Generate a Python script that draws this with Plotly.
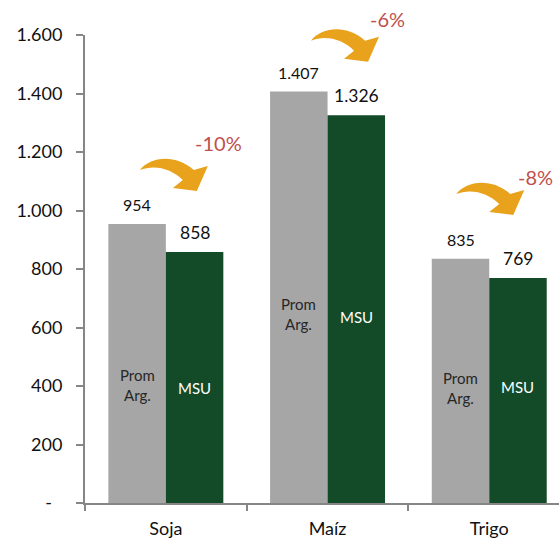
import plotly.graph_objects as go

# ---------------- data ----------------
categories = ["Soja", "Maíz", "Trigo"]
series_names = ["Prom Arg.", "MSU"]
inner_labels = ["Prom<br>Arg.", "MSU"]
prom_arg = [954, 1407, 835]
msu = [858, 1326, 769]
y_tick_vals = [0, 200, 400, 600, 800, 1000, 1200, 1400, 1600]
y_tick_text = ["-\u2007", "200", "400", "600", "800", "1.000", "1.200", "1.400", "1.600"]


def fmt(v):
    return f"{v:,}".replace(",", ".")


pct = [round((m - p) / p * 100) for p, m in zip(prom_arg, msu)]

# ---------------- layout constants ----------------
W, H = 559, 538
ML, MR, MT, MB = 85, 0, 35, 35
CAT_PX = 161.7
BARGAP = 0.289
x_range = [-0.5, -0.5 + (W - ML - MR) / CAT_PX]
y_range = [0, 1600]
half_bar = CAT_PX * (1 - BARGAP) / 4

GRAY = "#A6A6A6"
GREEN = "#134B29"
ORANGE = "#E9A21B"
RED = "#C0504D"
TXT = "#111111"
AXIS = "#868686"
FONT = "Lato"

# pixel offsets (x right, y up) relative to (category centre, top of gray bar)
pct_offsets = [(53, 81), (59.5, 72.5), (46, 81.8)]
arrow_tip_offsets = [(31, 33), (40.5, 29.8), (24, 43.8)]
inner_shift_gray = [-22, -17, -7]
inner_shift_green = [-10, -8, 4]

fig = go.Figure()
fig.add_bar(x=categories, y=prom_arg, name=series_names[0],
            marker=dict(color=GRAY, line=dict(width=0)), hoverinfo="x+y")
fig.add_bar(x=categories, y=msu, name=series_names[1],
            marker=dict(color=GREEN, line=dict(width=0)), hoverinfo="x+y")

annotations = []
for i, cat in enumerate(categories):
    # value labels
    annotations.append(dict(x=cat, y=prom_arg[i], xref="x", yref="y", text=fmt(prom_arg[i]),
                            showarrow=False, xshift=-half_bar, yshift=19, yanchor="middle",
                            font=dict(family=FONT, size=16, color=TXT)))
    annotations.append(dict(x=cat, y=msu[i], xref="x", yref="y", text=fmt(msu[i]),
                            showarrow=False, xshift=half_bar, yshift=20, yanchor="middle",
                            font=dict(family=FONT, size=17.5, color=TXT)))
    # inner labels
    annotations.append(dict(x=cat, y=prom_arg[i] / 2, xref="x", yref="y", text=inner_labels[0],
                            showarrow=False, xshift=-half_bar, yshift=inner_shift_gray[i],
                            yanchor="middle", font=dict(family=FONT, size=15, color="#262626")))
    annotations.append(dict(x=cat, y=msu[i] / 2, xref="x", yref="y", text=inner_labels[1],
                            showarrow=False, xshift=half_bar, yshift=inner_shift_green[i],
                            yanchor="middle", font=dict(family=FONT, size=15, color="white")))
    # percentage labels
    dx, dy = pct_offsets[i]
    annotations.append(dict(x=cat, y=prom_arg[i], xref="x", yref="y", text=f"{pct[i]}%",
                            showarrow=False, xshift=dx, yshift=dy, yanchor="middle",
                            font=dict(family=FONT, size=20, color=RED)))

# curved arrow outline (pixels, relative to the tip, y up)
arrow_pts = {
    "tail": (-57, 21), "c1": (-47, 34), "c2": (-22, 38), "jt": (-3, 21),
    "outer": (11, 25), "tip": (0, 0), "inner": (-24, 3), "jb": (-14, 11),
    "c3": (-25, 22), "c4": (-42, 27),
}


def arrow_path(ox, oy):
    p = {k: (x + ox, y + oy) for k, (x, y) in arrow_pts.items()}
    s = lambda k: f"{p[k][0]:.1f},{p[k][1]:.1f}"
    return (f"M {s('tail')} C {s('c1')} {s('c2')} {s('jt')} L {s('outer')} L {s('tip')} "
            f"L {s('inner')} L {s('jb')} C {s('c3')} {s('c4')} {s('tail')} Z")


shapes = []
for i in range(len(categories)):
    ax = (i - x_range[0]) / (x_range[1] - x_range[0])
    ay = (prom_arg[i] - y_range[0]) / (y_range[1] - y_range[0])
    ox, oy = arrow_tip_offsets[i]
    shapes.append(dict(type="path", xref="paper", yref="paper", xsizemode="pixel",
                       ysizemode="pixel", xanchor=ax, yanchor=ay, path=arrow_path(ox, oy),
                       fillcolor=ORANGE, line=dict(width=0), layer="above"))

fig.update_layout(
    width=W, height=H,
    margin=dict(l=ML, r=MR, t=MT, b=MB, pad=0, autoexpand=False),
    paper_bgcolor="white", plot_bgcolor="white",
    barmode="group", bargap=BARGAP, bargroupgap=0,
    showlegend=False,
    font=dict(family=FONT, color=TXT),
    annotations=annotations,
    shapes=shapes,
    xaxis=dict(range=x_range, showgrid=False, zeroline=False, showline=True,
               linecolor=AXIS, linewidth=2, ticks="outside", tickson="boundaries",
               ticklen=6, tickcolor=AXIS, tickwidth=1.5, ticklabelstandoff=8,
               automargin=False,
               tickfont=dict(family=FONT, size=18, color=TXT), fixedrange=True),
    yaxis=dict(range=y_range, showgrid=False, zeroline=False, showline=True,
               linecolor=AXIS, linewidth=2, ticks="outside", ticklen=7,
               tickcolor=AXIS, tickwidth=1.5, tickvals=y_tick_vals, ticktext=y_tick_text,
               ticklabelstandoff=10, automargin=False,
               tickfont=dict(family=FONT, size=18, color=TXT),
               fixedrange=True),
)

# remove the page's default body margin so the figure fills the window exactly
fig.write_html(
    "out.html",
    config={"displayModeBar": False},
    post_script="document.body.style.margin='0px';document.body.style.overflow='hidden';",
)
